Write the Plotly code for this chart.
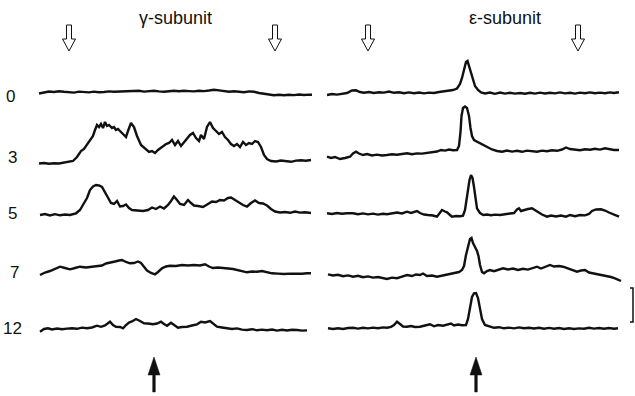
import plotly.graph_objects as go

# ---- Data: densitometric scans (position px, density above baseline) ----
row_labels = ["0", "3", "5", "7", "12"]
row_offsets = [95, 162, 215, 275, 331]          # baseline of each scan row
row_offsets_eps = [95, 162, 216, 278, 330]
panel_titles = ["γ-subunit", "ε-subunit"]

gamma_0 = [(39,1.5),(44,2.8),(49,3.5),(54,3.0),(59,3.8),(64,3.2),(69,3.0),(74,2.4),(79,3.4),(84,3.0),
           (89,2.6),(94,3.4),(99,2.8),(104,3.0),(109,3.6),(114,3.2),(119,3.4),(124,3.9),(129,4.3),(134,3.8),
           (139,4.2),(144,3.4),(149,3.9),(154,4.2),(159,3.6),(164,3.2),(169,3.8),(174,4.2),(179,3.7),(184,4.3),
           (189,3.9),(194,3.6),(199,4.2),(204,3.9),(209,4.5),(214,5.3),(219,4.6),(224,3.7),(229,3.2),(234,3.8),
           (239,3.0),(244,2.8),(249,3.6),(254,3.2),(259,2.0),(264,1.0),(269,0.2),(274,-0.3),(279,0.2),(284,-0.2),
           (289,0.3),(294,-0.1),(299,0.5),(304,0.0),(309,0.4),(312,0.2)]

gamma_3 = [(39,-1.5),(44,-1),(49,-1.8),(54,-1.2),(59,-1.5),(64,-0.6),(69,-0.2),(73,1),(77,5),(81,11),
           (84,13),(87,17),(90,21),(93,26),(95,32),(97,37),(99,35),(101,38),(103,34),(105,40),(107,36),
           (109,37),(112,34),(114,35),(116,32),(118,33),(120,31),(122,29),(124,28),(126,25),(128,31),
           (131,39),(134,35),(137,26),(141,17),(145,13),(149,10),(152,11),(155,9),(158,12),(162,15),
           (166,18),(169,19),(172,22),(175,17),(178,21),(181,16),(184,20),(187,23),(190,27),(193,29),
           (196,24),(199,21),(201,27),(204,23),(207,35),(210,40),(213,34),(216,31),(219,28),(222,30),
           (225,25),(228,22),(231,18),(234,16),(237,18),(240,15),(243,20),(246,17),(249,19),(252,18),
           (255,21),(258,20),(261,15),(264,7),(267,3),(271,1),(276,0.5),(281,1.5),(286,0.8),(291,0.2),
           (296,1.4),(301,1.8),(306,1.2),(311,2)]

gamma_5 = [(40,0),(45,1),(50,-0.5),(55,0.8),(60,-0.3),(65,0.5),(70,0),(76,1.7),(80,5),(83,10),
           (87,17),(90,25),(93,28.5),(96,30),(99,29.5),(102,28),(105,23),(108,17),(111,12),(114,11),
           (117,14),(120,8.5),(123,9),(126,10.5),(129,7),(132,5),(137,4.5),(143,4),(148,5),(152,7.5),
           (156,6),(160,8.5),(164,6.5),(168,10),(171,14),(174,18.5),(177,15),(180,11),(184,10),(188,15),
           (191,12),(194,9.5),(198,9),(203,8),(208,11),(212,13.5),(216,13),(220,15),(224,14.5),(228,17),
           (231,17.5),(234,15.5),(238,13),(243,10),(247,8.5),(251,12),(255,14.5),(259,12),(263,11.5),
           (267,9.5),(271,6),(275,3.5),(280,2.5),(285,3),(290,2.2),(295,3.5),(300,2.4),(305,2.8),(311,2)]

gamma_7 = [(40,0),(45,2.5),(50,4),(55,6),(60,8.3),(65,7),(70,5.7),(75,7),(80,8.3),(86,7.5),
           (93,8.3),(98,8.5),(102,9.5),(106,11.5),(110,12.7),(115,13.5),(119,14.5),(122,15),(126,13),
           (130,11.7),(134,12),(138,13.5),(141,12),(144,8),(147,4.5),(151,2),(155,0.7),(158,3),(162,6.7),
           (166,8.5),(170,9.3),(176,9),(182,10),(188,9.5),(194,10),(200,9.5),(205,10.7),(209,8.5),(213,7),
           (218,7.5),(223,7.3),(228,6.5),(233,6),(238,5),(243,3.5),(247,2.7),(252,3.5),(257,3.2),(262,4),
           (267,2.5),(272,1.7),(278,1.4),(284,1),(290,1.4),(296,1),(302,1.2),(307,1.7),(311,1.7)]

gamma_12 = [(40,-0.7),(44,2),(48,2.7),(52,1.5),(57,2.5),(62,1.8),(67,2.4),(72,2.8),(77,2.2),(82,3.4),
            (87,2.8),(92,3.5),(97,5.3),(101,4.2),(105,5.5),(108,7.5),(110,9.3),(113,6),(116,4.3),(120,4),
            (123,2.7),(126,6),(129,8.5),(132,9.5),(136,12),(140,10),(144,7.7),(148,7.5),(153,6.7),(157,7.5),
            (161,9.3),(164,7),(167,5.3),(171,8.3),(174,6.5),(178,3.3),(182,4),(187,4.3),(192,5.5),(197,6.7),
            (201,9.3),(205,8.5),(210,10),(214,7),(217,4.3),(222,3.5),(227,2.4),(232,2),(237,2.6),(242,1.4),
            (247,1),(252,1.8),(257,0.7),(262,1.4),(267,0.8),(272,1.5),(277,0.4),(282,1.2),(287,0.5),
            (292,1.3),(297,1),(302,0.4),(307,0.6)]

eps_0 = [(327,0),(332,1),(337,0.4),(342,1.5),(347,2),(352,4.5),(356,4.7),(360,3),(364,2.2),(369,3),
         (374,2),(379,2.8),(384,2.4),(389,3.4),(394,2.2),(399,2.8),(404,1.8),(409,2.6),(414,1.7),(419,2.5),
         (424,1.6),(429,2.4),(434,2),(439,3),(444,3.8),(449,4.5),(453,5),(457,6.5),(460,11),(462,17),
         (464,25),(466,33),(467.5,34),(469,29),(471,21),(473,14),(475,9),(478,5),(481,2.5),(485,1.5),
         (490,2.5),(495,1.2),(500,2.4),(505,1.4),(510,2.2),(515,1.4),(520,2),(525,1.2),(530,2.2),(535,1.4),
         (540,2.4),(545,1.5),(550,2.3),(555,1.6),(560,2.6),(565,1.6),(570,2.2),(575,1.4),(580,2.4),
         (585,1.7),(590,2.6),(595,1.8),(600,2.4),(605,1.8),(610,2.6),(614,2),(619,2.7)]

eps_3 = [(327,5.3),(331,4),(335,5),(340,3),(345,4),(350,5.3),(353,8.5),(356,10.3),(359,8.5),(363,7),
         (367,8),(372,6.5),(377,7.4),(382,6.5),(387,7),(392,7.8),(397,7.2),(402,8.2),(407,8.7),(412,7.8),
         (417,8.6),(422,8.4),(427,9),(432,9.2),(437,10.5),(441,12),(445,11.4),(449,12.4),(453,11.7),
         (457,12),(459,16),(460.5,30),(461.5,46),(463,54),(465,55.5),(467,54),(469,46),(470.5,34),
         (472,26),(474,22),(477,20.3),(480,18.5),(484,16.5),(488,14.5),(492,12.5),(497,11),(502,10.3),
         (507,11.4),(512,10.4),(517,11.2),(522,10.2),(527,11.4),(532,10.6),(537,10.3),(542,11.4),
         (547,10.8),(552,11.8),(557,11.2),(562,12.5),(566,14.5),(570,13),(575,12.5),(580,11.8),
         (585,12.7),(590,12.2),(595,13.2),(600,12.4),(605,13.7),(609,12.8),(614,12),(619,12)]

eps_5 = [(327,2.7),(332,2),(337,3),(342,2.2),(347,2.8),(353,2.7),(358,1.8),(363,2.6),(368,1.6),(373,2.4),
         (378,1.4),(383,2.2),(387,1.7),(392,2.7),(397,3.5),(402,2.6),(407,4.3),(411,3),(414,3.8),(417,5),
         (420,3),(424,1.5),(428,1),(433,0.5),(437,-0.7),(440,4),(442,6),(445,4.5),(447,3.7),(450,1),
         (452,-0.7),(456,0),(460,-0.3),(463,0.3),(465,6),(466.5,16),(468,28),(469.5,36),(471,41),
         (472.5,38),(474,29),(475.5,17),(477,7.7),(480,3),(483.3,1),(487,1.5),(491,0.7),(495,1.4),
         (500,1),(505,1.8),(510,2.2),(514,3),(517,6.5),(519,7.7),(521,5),(524,6),(528,7),(532,7.7),
         (535,6),(538,3.5),(542,1.5),(547,-0.7),(551,0.5),(556,-0.5),(561,0.5),(566,-0.7),(570,1),
         (575,-0.2),(580,1),(585,0.6),(589,2),(592,5),(596,6.5),(601,6.7),(605,5.5),(609,3.5),
         (613,1.5),(616,0),(619,-0.7)]

eps_7 = [(328,3.7),(333,2.5),(338,3.2),(343,1.8),(348,2.6),(353,1.3),(358,2.2),(363,0.8),(368,1.6),
         (373,0.4),(378,1),(383,0),(387,-1),(392,0.4),(397,-0.2),(402,1.4),(407,3),(412,2),(416,3.5),
         (420,3),(423,4.5),(427,2),(432,2.5),(437,1.3),(442,2.4),(447,3),(451,4),(455,4.7),(459,6),
         (462,8),(464,12),(466,23),(468,32),(470,39),(471.5,40),(473,35),(475,31),(477,27),(478.5,22),
         (480,13),(482,6),(484,4.7),(487,7),(490,8),(494,6.8),(498,8.4),(503,9.7),(508,8.5),(513,9.4),
         (518,8),(523,9.2),(528,8.4),(533,10),(537,11.3),(541,9.5),(546,11.5),(550,13),(554,11.5),
         (559,12),(563,11.3),(568,9.5),(572,8.5),(577,6.3),(581,7.5),(585,8),(589,5.5),(593,4.7),
         (598,3.5),(603,3),(607,2),(611,1),(615,-0.3),(619,-2),(621,-3)]

eps_12 = [(328,1.7),(333,1),(338,1.8),(343,1),(348,2),(353,2.3),(358,1.4),(363,2.2),(368,1.6),(373,2.4),
          (378,1.7),(383,2.6),(387,2.3),(391,3.2),(394,5),(397,8.3),(400,6),(403,3.5),(407,3.3),(411,4),
          (415,3),(420,3.3),(425,4.5),(430,5.7),(434,3.7),(438,5),(443,4.3),(447,5.4),(451,6.5),(454,4.5),
          (458,5.5),(462,4.8),(466,5),(468,11),(470,24),(472,33),(474,36.7),(476,37),(478,32),(480,22),
          (482,11),(485,5),(489,3.5),(494,2.2),(499,2.8),(504,1.7),(509,2.4),(514,1.6),(519,2.6),
          (524,1.7),(529,2.3),(534,1.5),(539,2.2),(544,1.3),(549,2.1),(554,1.2),(559,2),(564,1),
          (569,1.8),(574,1),(579,1.6),(584,1.2),(589,2.2),(594,1.4),(599,2),(604,1.2),(609,2),
          (614,1.3),(618,1.8)]

gamma_scans = [gamma_0, gamma_3, gamma_5, gamma_7, gamma_12]
eps_scans = [eps_0, eps_3, eps_5, eps_7, eps_12]

open_arrow_x = [69, 275, 368, 578]    # band-boundary markers (top, hollow)
filled_arrow_x = [154, 476]           # marker positions (bottom, filled)

# ---- Figure ----
fig = go.Figure()
ink = "#111111"

for scans, offsets in ((gamma_scans, row_offsets), (eps_scans, row_offsets_eps)):
    for scan, off in zip(scans, offsets):
        fig.add_trace(go.Scatter(
            x=[p[0] for p in scan],
            y=[off - p[1] for p in scan],
            mode="lines", line=dict(color=ink, width=2.4),
            hoverinfo="skip", showlegend=False))

font = dict(family="Liberation Sans, Arial, sans-serif", size=17, color=ink)
label_x = [10, 12, 12, 14, 12]
label_y = [96, 157, 213, 272, 328]
for lab, lx, ly in zip(row_labels, label_x, label_y):
    fig.add_annotation(x=lx, y=ly, text=lab, showarrow=False,
                       xref="x", yref="y", font=font, xanchor="center", yanchor="middle")

for title, tx in zip(panel_titles, [175, 505]):
    fig.add_annotation(x=tx, y=18, text=title, showarrow=False, xref="x", yref="y",
                       font=dict(family="Liberation Sans, Arial, sans-serif", size=18, color=ink),
                       xanchor="center", yanchor="middle")

shapes = []
for ax in open_arrow_x:
    path = (f"M {ax-2.5},25 L {ax+2.5},25 L {ax+2.5},39 L {ax+6.5},39 L {ax},51 "
            f"L {ax-6.5},39 L {ax-2.5},39 Z")
    shapes.append(dict(type="path", path=path, xref="x", yref="y",
                       line=dict(color=ink, width=1), fillcolor="white"))
for ax in filled_arrow_x:
    path = (f"M {ax},357 L {ax+6},375 L {ax+1.3},375 L {ax+1.3},392 L {ax-1.3},392 "
            f"L {ax-1.3},375 L {ax-6},375 Z")
    shapes.append(dict(type="path", path=path, xref="x", yref="y",
                       line=dict(color=ink, width=0.5), fillcolor=ink))
# scale bar
shapes.append(dict(type="path", path="M 630,288 L 633,288 L 633,322 L 630,322",
                   xref="x", yref="y", line=dict(color=ink, width=1.5)))

fig.update_layout(
    width=635, height=396, margin=dict(l=0, r=0, t=0, b=0),
    paper_bgcolor="white", plot_bgcolor="white", shapes=shapes,
    xaxis=dict(range=[0, 635], visible=False, fixedrange=True),
    yaxis=dict(range=[396, 0], visible=False, fixedrange=True),
)

# remove the default 8 px page margin so the figure fills the window exactly
fig.write_html("out.html",
               config={"displayModeBar": False, "staticPlot": True},
               post_script="document.body.style.margin='0';document.body.style.overflow='hidden';")
